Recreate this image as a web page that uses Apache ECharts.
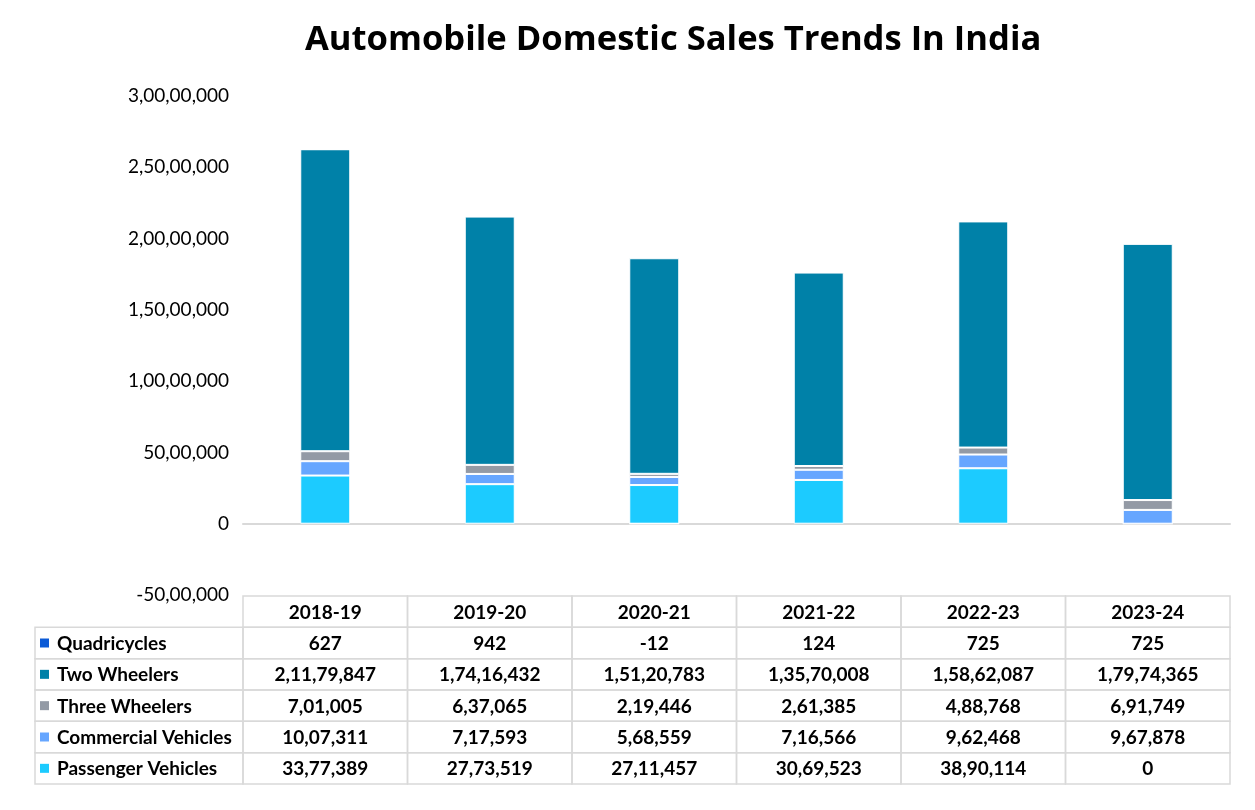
<!DOCTYPE html>
<html>
<head>
<meta charset="utf-8">
<script src="https://cdn.jsdelivr.net/npm/echarts@6/dist/echarts.min.js"></script>
<style>
html,body{margin:0;padding:0;background:#fff;}
#chart{width:1255px;height:810px;}
</style>
</head>
<body>
<div id="chart"></div>
<script>
const categories = ['2018-19', '2019-20', '2020-21', '2021-22', '2022-23', '2023-24'];
const passengerVehicles = [3377389, 2773519, 2711457, 3069523, 3890114, 0];
const commercialVehicles = [1007311, 717593, 568559, 716566, 962468, 967878];
const threeWheelers = [701005, 637065, 219446, 261385, 488768, 691749];
const twoWheelers = [21179847, 17416432, 15120783, 13570008, 15862087, 17974365];
const quadricycles = [627, 942, -12, 124, 725, 725];
const yMin = -5000000, yMax = 30000000, yInterval = 5000000;

const COLORS = {
  'Passenger Vehicles': '#1ccbff',
  'Commercial Vehicles': '#66a6ff',
  'Three Wheelers': '#939aa5',
  'Two Wheelers': '#0081a8',
  'Quadricycles': '#0b5ad6'
};

function fmtIN(n) {
  const neg = n < 0;
  let s = String(Math.abs(Math.round(n)));
  if (s.length > 3) {
    const last3 = s.slice(-3);
    let rest = s.slice(0, -3).replace(/\B(?=(\d{2})+(?!\d))/g, ',');
    s = rest + ',' + last3;
  }
  return (neg ? '-' : '') + s;
}

// stacking order bottom -> top
const stackSeries = [
  ['Passenger Vehicles', passengerVehicles],
  ['Commercial Vehicles', commercialVehicles],
  ['Three Wheelers', threeWheelers],
  ['Two Wheelers', twoWheelers],
  ['Quadricycles', quadricycles]
];
// table rows order top -> bottom
const tableRows = [
  ['Quadricycles', quadricycles],
  ['Two Wheelers', twoWheelers],
  ['Three Wheelers', threeWheelers],
  ['Commercial Vehicles', commercialVehicles],
  ['Passenger Vehicles', passengerVehicles]
];

const cells = [];
categories.forEach((c, i) => cells.push({kind: 'header', col: i, row: 0, text: c}));
tableRows.forEach((r, ri) => {
  cells.push({kind: 'label', col: 0, row: ri + 1, text: r[0], color: COLORS[r[0]]});
  r[1].forEach((v, ci) => cells.push({kind: 'value', col: ci, row: ri + 1, text: fmtIN(v)}));
});

const FONT = 'Lato, "Open Sans", sans-serif';
const LABEL_W = 208;
const BORDER = '#d9d9d9';
const TABLE_FS = 19;

function renderCell(params, api) {
  const cell = cells[params.dataIndex];
  const c = api.coord([cell.col, cell.row]);
  const s = api.size([1, 1]);
  const w = s[0], h = s[1];
  let x = c[0] - w / 2, y = c[1] - h / 2;
  const children = [];
  if (cell.kind === 'label') {
    const lx = x - LABEL_W;
    children.push({type: 'rect', shape: {x: lx, y: y, width: LABEL_W, height: h},
      style: {fill: 'none', stroke: BORDER, lineWidth: 1.5}});
    children.push({type: 'rect', shape: {x: lx + 5, y: c[1] - 4.5, width: 9, height: 9},
      style: {fill: cell.color}});
    children.push({type: 'text', style: {text: cell.text, x: lx + 22, y: c[1] + 1,
      textAlign: 'left', textVerticalAlign: 'middle', align: 'left', verticalAlign: 'middle',
      fontSize: TABLE_FS, fontWeight: 'bold', fontFamily: FONT, fill: '#000'}});
  } else {
    children.push({type: 'rect', shape: {x: x, y: y, width: w, height: h},
      style: {fill: 'none', stroke: BORDER, lineWidth: 1.5}});
    children.push({type: 'text', style: {text: cell.text, x: c[0], y: c[1] + 1,
      textAlign: 'center', textVerticalAlign: 'middle', align: 'center', verticalAlign: 'middle',
      fontSize: TABLE_FS, fontWeight: 'bold', fontFamily: FONT, fill: '#000'}});
  }
  return {type: 'group', children: children};
}

const chart = echarts.init(document.getElementById('chart'), null, {renderer: 'canvas'});
const option = {
  animation: false,
  backgroundColor: '#fff',
  title: {
    text: 'Automobile Domestic Sales Trends In India',
    left: 300, top: 18,
    textStyle: {fontSize: 34.6, fontWeight: 'bold', fontFamily: '"Open Sans", sans-serif', color: '#000'}
  },
  grid: [
    {left: 243, right: 25, top: 96, bottom: 215, containLabel: false},
    {left: 243, right: 25, top: 596, bottom: 26, containLabel: false}
  ],
  xAxis: [
    {type: 'category', data: categories, gridIndex: 0,
      axisLine: {show: true, onZero: true, lineStyle: {color: '#d9d9d9', width: 2}},
      axisTick: {show: false}, axisLabel: {show: false}, splitLine: {show: false}},
    {type: 'category', data: categories, gridIndex: 1, show: false}
  ],
  yAxis: [
    {type: 'value', gridIndex: 0, min: yMin, max: yMax, interval: yInterval,
      axisLine: {show: false}, axisTick: {show: false}, splitLine: {show: false},
      axisLabel: {formatter: v => fmtIN(v), fontSize: 19, color: '#000', margin: 14, fontFamily: FONT}},
    {type: 'category', gridIndex: 1, inverse: true, show: false,
      data: ['header'].concat(tableRows.map(r => r[0]))}
  ],
  series: stackSeries.map(([name, vals]) => ({
    name: name, type: 'bar', stack: 'total', xAxisIndex: 0, yAxisIndex: 0,
    barWidth: 50, data: vals,
    itemStyle: {color: COLORS[name], borderColor: '#fff', borderWidth: 1}
  })).concat([{
    type: 'custom', xAxisIndex: 1, yAxisIndex: 1, clip: false,
    renderItem: renderCell,
    data: cells.map(c => [c.col, c.row]),
    silent: true
  }])
};
chart.setOption(option);
</script>
</body>
</html>
